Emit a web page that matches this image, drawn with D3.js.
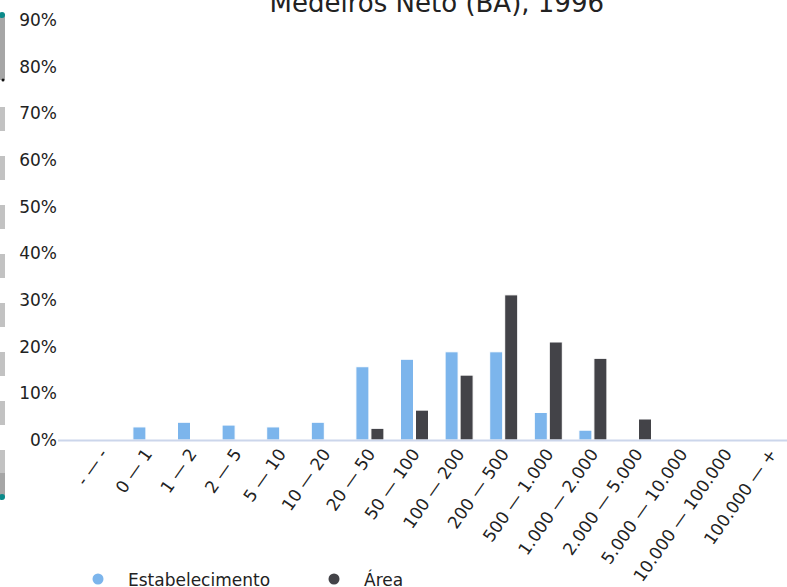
<!DOCTYPE html>
<html><head><meta charset="utf-8">
<script src="https://cdn.jsdelivr.net/npm/d3@7"></script>
<style>body{margin:0;background:#fff}svg{display:block;font-family:"DejaVu Sans",sans-serif}</style>
</head><body><svg id="c" width="787" height="587"></svg>
<script>
const title = "Medeiros Neto (BA), 1996";
const categories = ["- — -","0 — 1","1 — 2","2 — 5","5 — 10","10 — 20","20 — 50","50 — 100","100 — 200","200 — 500","500 — 1.000","1.000 — 2.000","2.000 — 5.000","5.000 — 10.000","10.000 — 100.000","100.000 — +"];
const seriesNames = ["Estabelecimento","Área"];
const estabelecimento = [0,2.8,3.8,3.2,2.8,3.8,15.7,17.3,18.9,18.9,5.9,2.1,0,0,0,0];
const area = [0,0,0,0,0,0,2.5,6.4,13.9,31.1,21.0,17.5,4.5,0,0,0];
const yTicks = [0,10,20,30,40,50,60,70,80,90];
const colors = ["#7cb5ec","#434348"];

const svg = d3.select("#c");
const W = 787, H = 587;

// left strip (scrollbar-like artifact)
const strip = svg.append("g");
strip.append("rect").attr("x",0).attr("y",14).attr("width",5).attr("height",66).attr("fill","#a6a6a6");
d3.range(8).forEach(k=>{
  strip.append("rect").attr("x",0).attr("y",107+49*k).attr("width",5).attr("height",24).attr("fill","#c2c2c2");
});
strip.append("rect").attr("x",0).attr("y",473).attr("width",5).attr("height",24).attr("fill","#a6a6a6");
strip.append("circle").attr("cx",2).attr("cy",15).attr("r",3).attr("fill","#0a8a8a");
strip.append("circle").attr("cx",2).attr("cy",497).attr("r",3).attr("fill","#0a8a8a");
strip.append("circle").attr("cx",3).attr("cy",80).attr("r",1.5).attr("fill","#111");

const x0 = d3.scaleBand().domain(categories).range([80,793.6]).padding(0);
const groupW = 28;
const x1 = d3.scaleBand().domain([0,1]).range([0,groupW]).paddingInner(2/15).paddingOuter(0);
const y = d3.scaleLinear().domain([0,90]).range([440,20]);

// title
svg.append("text").attr("x",(80+793.6)/2).attr("y",12).attr("text-anchor","middle")
  .attr("font-size",26).attr("fill","#222").text(title);

// y labels
const yAxis = d3.axisLeft(y).tickValues(yTicks).tickFormat(d=>d+"%").tickSize(0).tickPadding(0);
const yg = svg.append("g").attr("transform","translate(57,0)").call(yAxis);
yg.select(".domain").remove();
yg.selectAll("text").attr("font-size",17).attr("fill","#222").attr("font-family","DejaVu Sans, sans-serif");

// bars
const data = [estabelecimento, area];
data.forEach((vals,s)=>{
  svg.append("g").selectAll("rect").data(vals).join("rect")
    .attr("x",(d,i)=>x0(categories[i]) + (x0.bandwidth()-groupW)/2 + x1(s))
    .attr("width",x1.bandwidth())
    .attr("y",d=>y(d))
    .attr("height",d=>y(0)-y(d))
    .attr("fill",colors[s])
    .attr("stroke","#fff").attr("stroke-width",1);
});

// x axis line
svg.append("line").attr("x1",58).attr("x2",W).attr("y1",440.5).attr("y2",440.5)
  .attr("stroke","#ccd6eb").attr("stroke-width",2);

// x labels
const xAxis = d3.axisBottom(x0).tickSize(0).tickPadding(0);
const xg = svg.append("g").attr("transform","translate(0,440)").call(xAxis);
xg.select(".domain").remove();
xg.selectAll("text")
  .attr("font-size",17).attr("fill","#222").attr("font-family","DejaVu Sans, sans-serif")
  .attr("text-anchor","end").attr("dy",null).attr("y",0).attr("x",0)
  .attr("transform","translate(6,14) rotate(-55)");

// legend
const lg = svg.append("g");
const lx = [98,334];
seriesNames.forEach((n,i)=>{
  lg.append("circle").attr("cx",lx[i]).attr("cy",579).attr("r",5.5).attr("fill",colors[i]);
  lg.append("text").attr("x",lx[i]+30).attr("y",586).attr("font-size",17).attr("fill","#222").text(n);
});
</script></body></html>
